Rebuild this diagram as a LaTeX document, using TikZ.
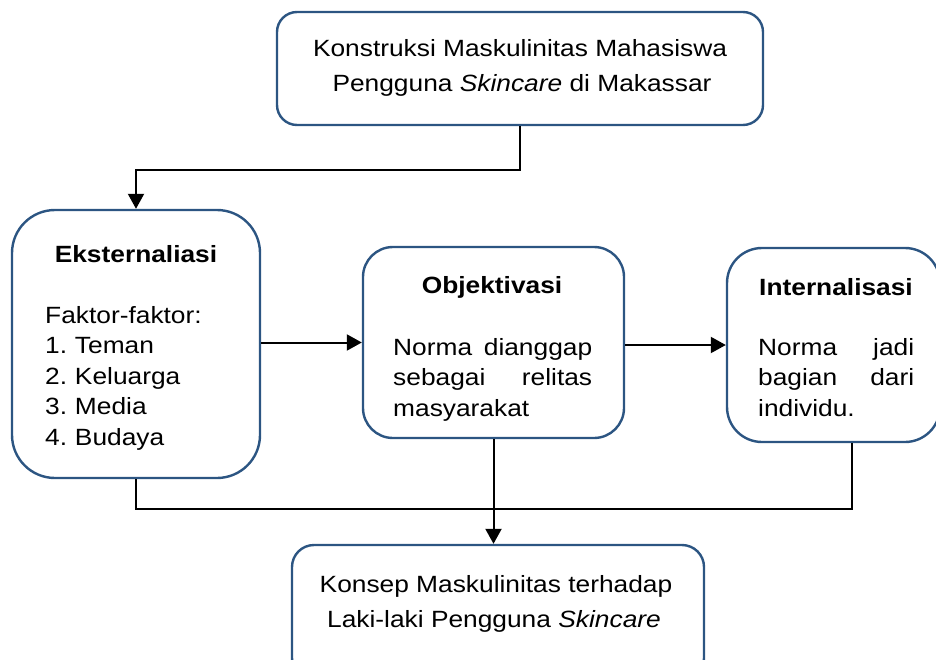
\documentclass[tikz,border=0pt]{standalone}
\usepackage{fontspec}
\setmainfont{Liberation Sans}[FakeStretch=1.12]
\usetikzlibrary{arrows.meta}
\definecolor{boxblue}{RGB}{44,85,130}
\tikzset{
  box/.style={draw=boxblue, line width=2.4pt, fill=white, rectangle, inner sep=0pt},
  conn/.style={draw=black, line width=2pt},
  arr/.style={conn, -{Triangle[length=15pt,width=16pt]}},
  txt/.style={inner sep=0pt, font=\fontsize{23.5}{30.5}\selectfont\frenchspacing},
  tline/.style={txt, anchor=base},
}
\begin{document}
\begin{tikzpicture}[x=1pt,y=-1pt]
\useasboundingbox (0,0) rectangle (936,660);
% boxes
\node[box, rounded corners=20pt, minimum width=486pt, minimum height=113pt] (top) at (520,68.5) {};
\node[box, rounded corners=43pt, minimum width=248pt, minimum height=268pt] (ext) at (136,344) {};
\node[box, rounded corners=30pt, minimum width=261pt, minimum height=191pt] (obj) at (493.5,342.5) {};
\node[box, rounded corners=35pt, minimum width=213pt, minimum height=194pt] (int) at (833.5,345) {};
\node[box, rounded corners=22pt, minimum width=412pt, minimum height=135pt] (bot) at (498,612.5) {};
% top text
\node[tline] (t1) at (520,57) {Konstruksi Maskulinitas Mahasiswa};
\node[tline] (t2) at (522,92) {Pengguna \textit{Skincare} di Makassar};
% eksternalisasi text
\node[tline] (e0) at (136,262) {\textbf{Eksternaliasi}};
\node[txt, anchor=base west, text width=200pt, align=left] (e1) at (45,323) {Faktor-faktor:\\1. Teman\\2. Keluarga\\3. Media\\4. Budaya};
% objektivasi text
\node[tline] (o0) at (492,293) {\textbf{Objektivasi}};
\node[txt, anchor=base west, text width=199pt, align=left] (o1) at (393,355) {Norma\hfill dianggap\\sebagai\hfill relitas\\masyarakat};
% internalisasi text
\node[tline] (i0) at (836,295) {\textbf{Internalisasi}};
\node[txt, anchor=base west, text width=156pt, align=left] (i1) at (758,355) {Norma\hfill jadi\\bagian\hfill dari\\individu.};
% bottom text
\node[tline] (b1) at (496,592) {Konsep Maskulinitas terhadap};
\node[tline] (b2) at (494,627) {Laki-laki Pengguna \textit{Skincare}};
% connectors
\draw[arr] (top.south) -- ++(0,44) -| (ext.north);
\draw[arr] (ext.east |- obj.west) -- (obj.west);
\draw[arr] (obj.east |- int.west) -- (int.west);
\coordinate (jr) at (852,509);
\draw[conn] (ext.south) |- (jr) -- (jr |- int.south);
\draw[arr] (obj.south) -- (obj.south |- bot.north);
\end{tikzpicture}
\end{document}
